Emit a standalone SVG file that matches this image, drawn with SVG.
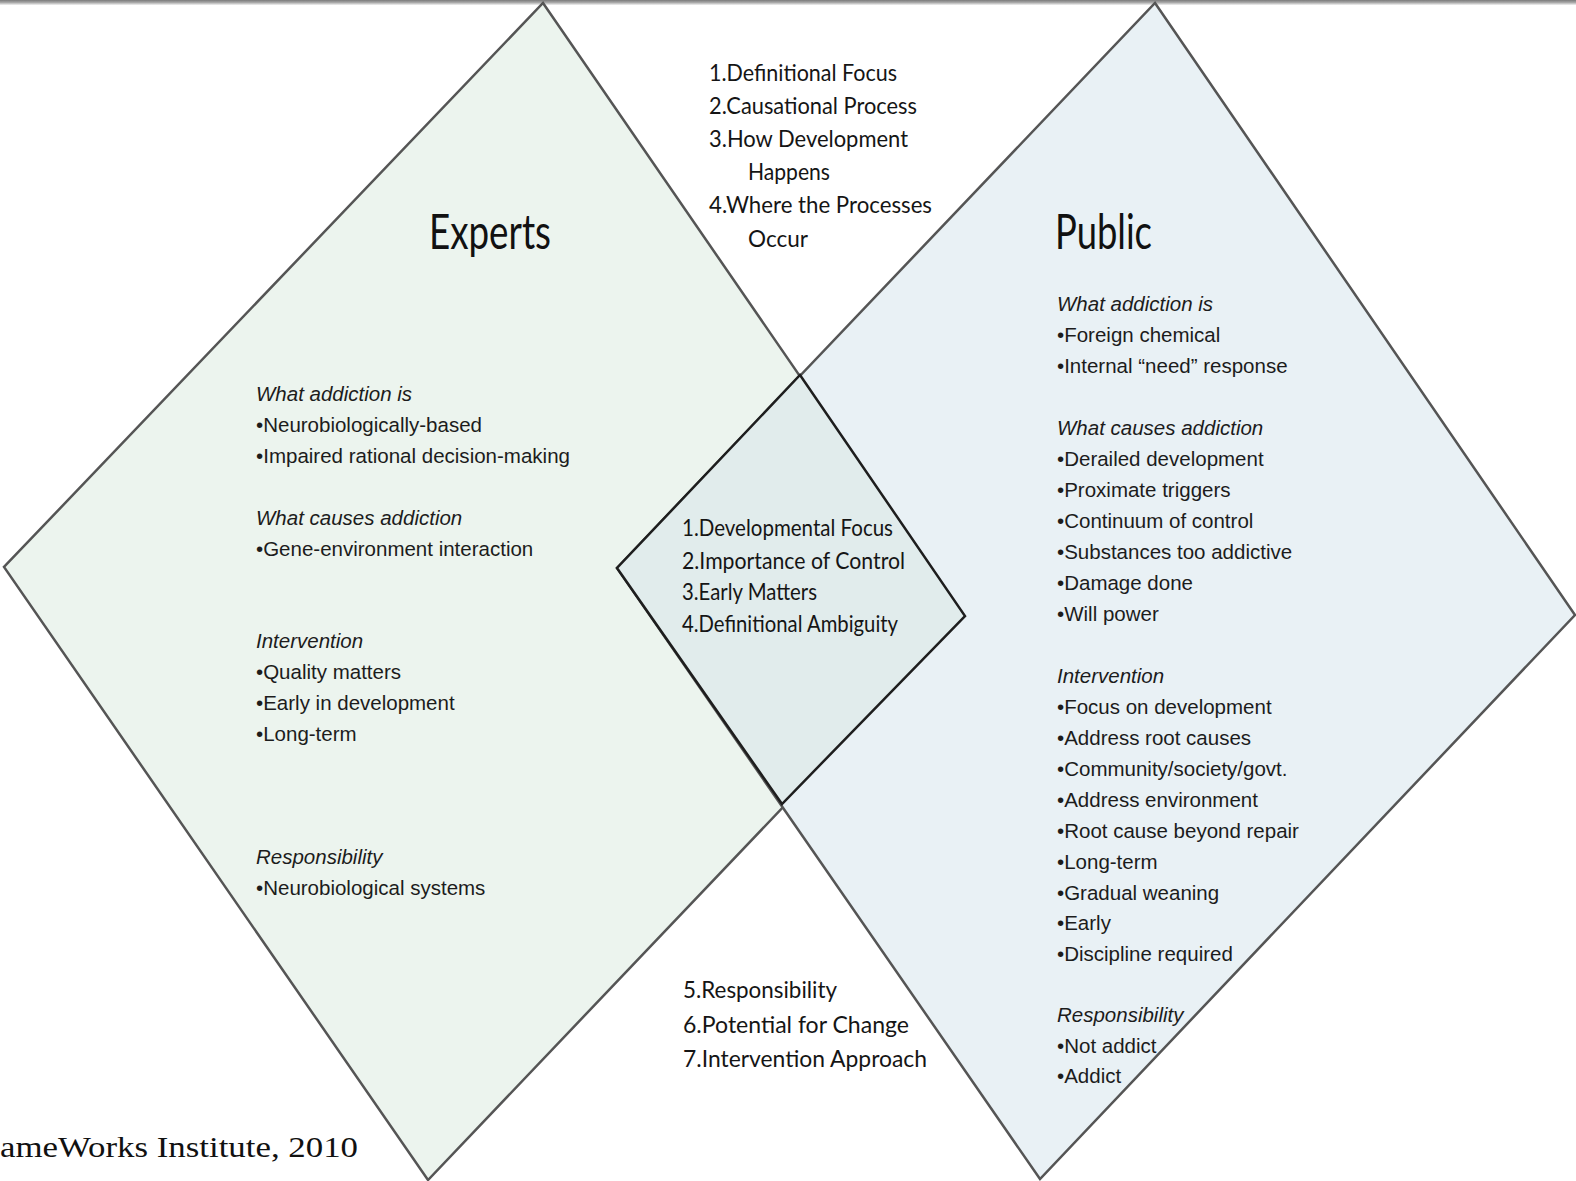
<svg xmlns="http://www.w3.org/2000/svg" width="1576" height="1181" viewBox="0 0 1576 1181">
  <defs>
    <linearGradient id="topbar" x1="0" y1="0" x2="0" y2="1">
      <stop offset="0" stop-color="#7a7a7a"/>
      <stop offset="0.5" stop-color="#a8a8a8"/>
      <stop offset="1" stop-color="#f2f2f2"/>
    </linearGradient>
  </defs>
  <style>
    .outer { stroke: #555; stroke-width: 2.5; stroke-linejoin: miter; }
    .shared { fill: #e1ecec; stroke: #1e1e1e; stroke-width: 2.5; }
    .title { font-family: Lato, "Open Sans", sans-serif; font-size: 48px; fill: #111; }
    .gill { font-family: Lato, "Open Sans", sans-serif; font-size: 23px; fill: #151515; }
    .body { font-family: "Liberation Sans", Arial, sans-serif; font-size: 20.5px; fill: #1c1c1c; }
    .head { font-style: italic; }
    .foot { font-family: "Liberation Serif", Georgia, serif; font-size: 30px; fill: #111; }
  </style>

  <rect x="0" y="0" width="1576" height="1181" fill="#ffffff"/>
  <rect x="0" y="0" width="1576" height="5" fill="url(#topbar)"/>

  <!-- Experts diamond -->
  <g id="experts">
    <polygon class="outer" points="543,3 965,616 428,1180 4,567" fill="#ecf4ee"/>
  </g>

  <!-- Public diamond -->
  <g id="public">
    <polygon class="outer" points="1155,3 1575,615 1040,1179 617,568" fill="#e9f1f5"/>
  </g>

  <!-- Shared overlap -->
  <g id="shared">
    <polygon class="shared" points="800,375 965,616 782,804 617,568"/>
    <g class="gill">
      <text x="682" y="536" textLength="211" lengthAdjust="spacingAndGlyphs">1.Developmental Focus</text>
      <text x="682" y="569" textLength="223" lengthAdjust="spacingAndGlyphs">2.Importance of Control</text>
      <text x="682" y="600" textLength="135" lengthAdjust="spacingAndGlyphs">3.Early Matters</text>
      <text x="682" y="632" textLength="216" lengthAdjust="spacingAndGlyphs">4.Definitional Ambiguity</text>
    </g>
  </g>

  <!-- Experts texts -->
  <g id="experts-text">
    <text class="title" x="429" y="249" textLength="122" lengthAdjust="spacingAndGlyphs">Experts</text>
    <g class="body">
      <text class="head" x="256" y="401">What addiction is</text>
      <text x="256" y="432">•Neurobiologically-based</text>
      <text x="256" y="463" textLength="314" lengthAdjust="spacingAndGlyphs">•Impaired rational decision-making</text>
      <text class="head" x="256" y="525">What causes addiction</text>
      <text x="256" y="556">•Gene-environment interaction</text>
      <text class="head" x="256" y="648">Intervention</text>
      <text x="256" y="679">•Quality matters</text>
      <text x="256" y="710">•Early in development</text>
      <text x="256" y="741">•Long-term</text>
      <text class="head" x="256" y="864">Responsibility</text>
      <text x="256" y="895">•Neurobiological systems</text>
    </g>
  </g>

  <!-- Public texts -->
  <g id="public-text">
    <text class="title" x="1055" y="249" textLength="97" lengthAdjust="spacingAndGlyphs">Public</text>
    <g class="body">
      <text class="head" x="1057" y="311">What addiction is</text>
      <text x="1057" y="342">•Foreign chemical</text>
      <text x="1057" y="373">•Internal “need” response</text>
      <text class="head" x="1057" y="435">What causes addiction</text>
      <text x="1057" y="466">•Derailed development</text>
      <text x="1057" y="497">•Proximate triggers</text>
      <text x="1057" y="528">•Continuum of control</text>
      <text x="1057" y="559">•Substances too addictive</text>
      <text x="1057" y="590">•Damage done</text>
      <text x="1057" y="621">•Will power</text>
      <text class="head" x="1057" y="683">Intervention</text>
      <text x="1057" y="714">•Focus on development</text>
      <text x="1057" y="745">•Address root causes</text>
      <text x="1057" y="776">•Community/society/govt.</text>
      <text x="1057" y="807">•Address environment</text>
      <text x="1057" y="838">•Root cause beyond repair</text>
      <text x="1057" y="869">•Long-term</text>
      <text x="1057" y="900">•Gradual weaning</text>
      <text x="1057" y="930">•Early</text>
      <text x="1057" y="961">•Discipline required</text>
      <text class="head" x="1057" y="1022">Responsibility</text>
      <text x="1057" y="1053">•Not addict</text>
      <text x="1057" y="1083">•Addict</text>
    </g>
  </g>

  <!-- Upper shared list -->
  <g id="top-list" class="gill">
    <text x="709" y="81" textLength="188" lengthAdjust="spacingAndGlyphs">1.Definitional Focus</text>
    <text x="709" y="114" textLength="208" lengthAdjust="spacingAndGlyphs">2.Causational Process</text>
    <text x="709" y="147" textLength="199" lengthAdjust="spacingAndGlyphs">3.How Development</text>
    <text x="748" y="180" textLength="82" lengthAdjust="spacingAndGlyphs">Happens</text>
    <text x="709" y="213" textLength="223" lengthAdjust="spacingAndGlyphs">4.Where the Processes</text>
    <text x="748" y="247" textLength="60" lengthAdjust="spacingAndGlyphs">Occur</text>
  </g>

  <!-- Lower shared list -->
  <g id="bottom-list" class="gill">
    <text x="683" y="998" textLength="154" lengthAdjust="spacingAndGlyphs">5.Responsibility</text>
    <text x="683" y="1033" textLength="226" lengthAdjust="spacingAndGlyphs">6.Potential for Change</text>
    <text x="683" y="1067" textLength="244" lengthAdjust="spacingAndGlyphs">7.Intervention Approach</text>
  </g>

  <!-- Source credit -->
  <g id="credit">
    <text class="foot" x="0" y="1157" textLength="358" lengthAdjust="spacingAndGlyphs">ameWorks Institute, 2010</text>
  </g>
</svg>
